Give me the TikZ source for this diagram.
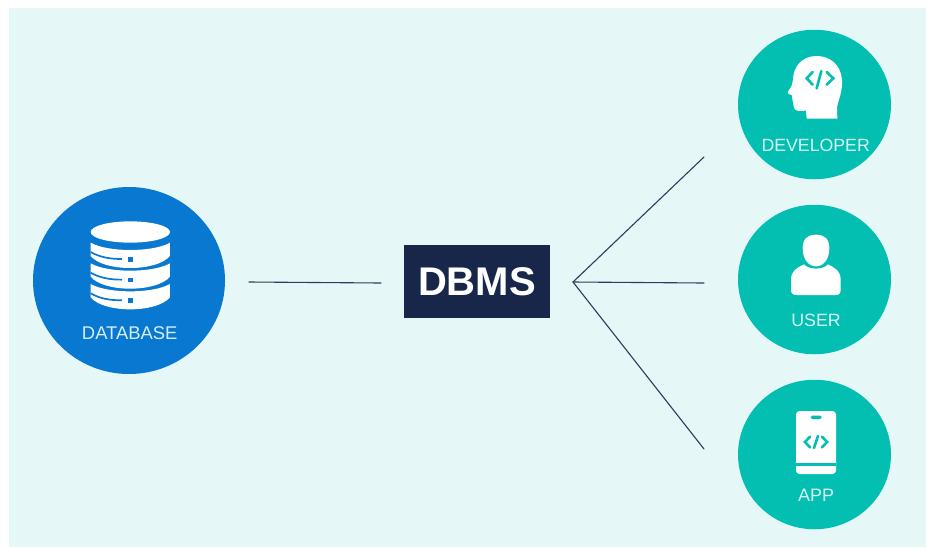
\documentclass[tikz,border=0pt]{standalone}
\usepackage{fontspec}
\setmainfont{Liberation Sans}
\usetikzlibrary{shapes.geometric}
\definecolor{panelc}{HTML}{E6F7F8}
\definecolor{dbblue}{HTML}{0878D0}
\definecolor{tealc}{HTML}{02BFB1}
\definecolor{navyc}{HTML}{18264A}
\definecolor{linkc}{HTML}{2F3B58}
\definecolor{dblabel}{HTML}{D6EEFA}
\definecolor{teallabel}{HTML}{D8F5F2}
\tikzset{
  bubble/.style={ellipse,inner sep=0pt,minimum width=153pt,minimum height=149.5pt,fill=tealc,draw=none},
  dbbubble/.style={ellipse,inner sep=0pt,minimum width=192pt,minimum height=187pt,fill=dbblue,draw=none},
  caption/.style={inner sep=0pt,text=teallabel},
  link/.style={draw=linkc,line width=1.1pt,line cap=round},
  zoomed/.style={x=0.33333pt,y=-0.33333pt},
  codemark/.style={draw=tealc,line width=2.6pt,line cap=round,line join=miter}
}
\begin{document}
\begin{tikzpicture}[x=1pt,y=-1pt]
\useasboundingbox (0,0) rectangle (926,547);
\fill[white] (0,0) rectangle (926,547);
\fill[panelc] (9,8) rectangle (926,547);

% circles
\node[dbbubble] (database) at (129,280.5) {};
\node[bubble] (developer) at (814.5,104.5) {};
\node[bubble] (user) at (814.5,279.5) {};
\node[bubble] (app) at (814.5,454.5) {};

% database icon
\begin{scope}[shift={(20,180)},zoomed]
  \fill[white] (331,156) ellipse [x radius=119,y radius=32];
  \foreach \dy in {0,62,124}{
    \begin{scope}[yshift=-\dy*0.33333pt]
      \fill[white] (212,188) .. controls (240,204) and (290,210) .. (331,210)
        .. controls (372,210) and (422,204) .. (450,188)
        -- (450,228) .. controls (430,252) and (380,264) .. (331,264)
        .. controls (280,264) and (232,252) .. (212,228) -- cycle;
      \draw[dbblue,line width=1.7pt] (212,216) .. controls (240,232) and (270,237) .. (306,237);
      \fill[dbblue] (325,231) rectangle (340,245);
    \end{scope}
  }
\end{scope}

% head icon
\begin{scope}[shift={(730,20)},zoomed]
  \fill[white] (230,296) -- (322,296) -- (321,262)
    .. controls (325,240) and (338,215) .. (336,180)
    .. controls (333,135) and (300,107) .. (258,108)
    .. controls (215,109) and (190,140) .. (189,178)
    .. controls (189,190) and (186,198) .. (173,216)
    .. controls (171,222) and (183,224) .. (186,226)
    .. controls (188,235) and (186,245) .. (190,250)
    .. controls (190,262) and (193,272) .. (207,273)
    -- (228,272) -- cycle;
  \draw[codemark] (248,156) -- (230,175) -- (248,194);
  \draw[codemark] (274,153) -- (260,205);
  \draw[codemark] (290,156) -- (310,175) -- (290,194);
\end{scope}

% user icon
\begin{scope}[shift={(730,200)},zoomed]
  \fill[white] (258,104) .. controls (285,104) and (298,118) .. (298,145)
    .. controls (298,178) and (280,199) .. (258,199)
    .. controls (236,199) and (218,178) .. (218,145)
    .. controls (218,118) and (231,104) .. (258,104) -- cycle;
  \fill[white] (222,193) .. controls (235,210) and (281,210) .. (294,193)
    .. controls (315,204) and (332,212) .. (332,240)
    -- (332,270) .. controls (332,281) and (326,285) .. (316,285)
    -- (200,285) .. controls (190,285) and (183,281) .. (183,270)
    -- (183,240) .. controls (183,212) and (200,204) .. (222,193) -- cycle;
\end{scope}

% app icon
\begin{scope}[shift={(730,375)},zoomed]
  \fill[white,rounded corners=3.5pt] (198,108) rectangle (318,297);
  \fill[tealc] (198,265) rectangle (318,273);
  \fill[tealc,rounded corners=1.5pt] (242,122) rectangle (275,132);
  \draw[codemark] (240,185) -- (225,201) -- (240,217);
  \draw[codemark] (264,183) -- (252,219);
  \draw[codemark] (276,185) -- (291,201) -- (276,217);
\end{scope}

% captions
\node[caption,text=dblabel,font=\fontsize{18.4}{20}\selectfont] (dblabeltext) at (129.7,333) {DATABASE};
\node[caption,font=\fontsize{17.7}{19}\selectfont] (devlabeltext) at (815.7,145) {DEVELOPER};
\node[caption,font=\fontsize{17.8}{19}\selectfont] (userlabeltext) at (816,320) {USER};
\node[caption,font=\fontsize{18}{19}\selectfont] (applabeltext) at (816,495) {APP};

% DBMS box
\node[fill=navyc,minimum width=146pt,minimum height=72.5pt,inner sep=0pt,text=white,
  font=\fontsize{40}{42}\selectfont\bfseries] (dbms) at (477,281.5) {DBMS};

% connector ends
\coordinate (dbend) at (249,282);
\coordinate (boxend) at (381,283);
\coordinate (hub) at (573,282);
\coordinate (devend) at (704,157);
\coordinate (userend) at (704,283);
\coordinate (append) at (704,449);

\draw[link] (dbend) -- (boxend);
\draw[link] (hub) -- (devend);
\draw[link] (hub) -- (userend);
\draw[link] (hub) -- (append);
\end{tikzpicture}
\end{document}
